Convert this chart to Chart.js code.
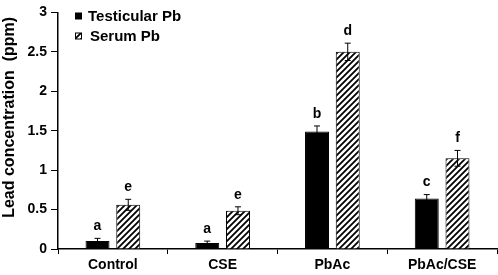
<!DOCTYPE html>
<html>
<head>
<meta charset="utf-8">
<script src="https://cdn.jsdelivr.net/npm/chart.js@4.4.0/dist/chart.umd.min.js"></script>
<style>
  body { margin: 0; background: #fff; }
  canvas { display: block; }
</style>
</head>
<body>
<canvas id="chart" width="498" height="275"></canvas>
<script>
// data
var categories = ['Control', 'CSE', 'PbAc', 'PbAc/CSE'];
var testicular = [0.10, 0.075, 1.49, 0.64];
var testicularErr = [0.035, 0.025, 0.07, 0.05];
var testicularLetters = ['a', 'a', 'b', 'c'];
var serum = [0.56, 0.485, 2.50, 1.15];
var serumErr = [0.07, 0.05, 0.11, 0.10];
var serumLetters = ['e', 'e', 'd', 'f'];
var yTicks = [0, 0.5, 1, 1.5, 2, 2.5, 3];
var yTickLabels = ['0', '0.5', '1', '1.5', '2', '2.5', '3'];

var FONT = '"Liberation Sans", Arial, sans-serif';

// diagonal hatch for serum bars
function makeHatch() {
    var c = document.createElement('canvas');
    c.width = 6; c.height = 6;
    var g = c.getContext('2d');
    g.fillStyle = '#fff';
    g.fillRect(0, 0, 6, 6);
    g.strokeStyle = '#000';
    g.lineWidth = 1.8;
    g.beginPath();
    g.moveTo(-1, 7); g.lineTo(7, -1);
    g.moveTo(-1, 1); g.lineTo(1, -1);
    g.moveTo(5, 7); g.lineTo(7, 5);
    g.stroke();
    return g.createPattern(c, 'repeat');
}
var hatch = makeHatch();

var errLetters = {
    id: 'errLetters',
    afterDatasetsDraw: function(chart) {
        var ctx = chart.ctx;
        var y = chart.scales.y;
        var errs = [testicularErr, serumErr];
        var letters = [testicularLetters, serumLetters];
        ctx.save();
        chart.data.datasets.forEach(function(ds, di) {
            chart.getDatasetMeta(di).data.forEach(function(bar, i) {
                var v = ds.data[i];
                var top = y.getPixelForValue(v + errs[di][i]);
                var bot = y.getPixelForValue(v - errs[di][i]);
                ctx.strokeStyle = '#000';
                ctx.lineWidth = 1;
                ctx.beginPath();
                ctx.moveTo(bar.x, top); ctx.lineTo(bar.x, bot);
                ctx.moveTo(bar.x - 3, top); ctx.lineTo(bar.x + 3, top);
                ctx.moveTo(bar.x - 3, bot); ctx.lineTo(bar.x + 3, bot);
                ctx.stroke();
                ctx.fillStyle = '#000';
                ctx.font = 'bold 14px ' + FONT;
                ctx.textAlign = 'center';
                ctx.textBaseline = 'middle';
                ctx.fillText(letters[di][i], bar.x, top - 12);
            });
        });
        ctx.restore();
    }
};

var boxLegend = {
    id: 'boxLegend',
    afterDraw: function(chart) {
        var ctx = chart.ctx;
        ctx.save();
        ctx.font = 'bold 15px ' + FONT;
        ctx.textBaseline = 'middle';
        ctx.textAlign = 'left';
        chart.data.datasets.forEach(function(ds, i) {
            var yy = 16 + i * 20;
            ctx.fillStyle = ds.backgroundColor;
            ctx.fillRect(75.5, yy - 3, 6, 6);
            ctx.strokeStyle = '#000';
            ctx.lineWidth = 1;
            ctx.strokeRect(75.5, yy - 3, 6, 6);
            ctx.fillStyle = '#000';
            ctx.fillText(ds.label, 88 + i * 2, yy + 1);
        });
        ctx.restore();
    }
};

new Chart(document.getElementById('chart'), {
    type: 'bar',
    data: {
        labels: categories,
        datasets: [{
            label: 'Testicular Pb',
            data: testicular,
            backgroundColor: '#000',
            borderColor: '#000',
            borderWidth: 1
        }, {
            label: 'Serum Pb',
            data: serum,
            backgroundColor: hatch,
            borderColor: '#000',
            borderWidth: 1
        }]
    },
    options: {
        responsive: false,
        devicePixelRatio: 1,
        animation: false,
        categoryPercentage: 0.56,
        barPercentage: 0.78,
        layout: { padding: { top: 1, right: 1 } },
        plugins: {
            legend: { display: false },
            tooltip: { enabled: false }
        },
        scales: {
            x: {
                grid: {
                    offset: true,
                    drawOnChartArea: false,
                    drawTicks: true,
                    tickLength: 5,
                    color: '#000'
                },
                border: { display: true, color: '#000', width: 1.5 },
                ticks: {
                    color: '#000',
                    padding: 3,
                    font: { family: FONT, size: 14, weight: 'bold' }
                },
                afterFit: function(s) { s.height = 26; }
            },
            y: {
                min: 0,
                max: 3,
                afterBuildTicks: function(s) {
                    s.ticks = yTicks.map(function(v) { return { value: v }; });
                },
                grid: {
                    drawOnChartArea: false,
                    drawTicks: true,
                    tickLength: 7,
                    color: '#000'
                },
                border: { display: true, color: '#000', width: 1.5 },
                ticks: {
                    color: '#000',
                    padding: 4,
                    font: { family: FONT, size: 14, weight: 'bold' },
                    callback: function(v, i) { return yTickLabels[i]; }
                },
                title: {
                    display: true,
                    text: '      Lead concentration  (ppm)',
                    color: '#000',
                    padding: { top: 0, bottom: 0 },
                    font: { family: FONT, size: 16, weight: 'bold' }
                },
                afterFit: function(s) { s.width = 58; }
            }
        }
    },
    plugins: [errLetters, boxLegend]
});
</script>
</body>
</html>
